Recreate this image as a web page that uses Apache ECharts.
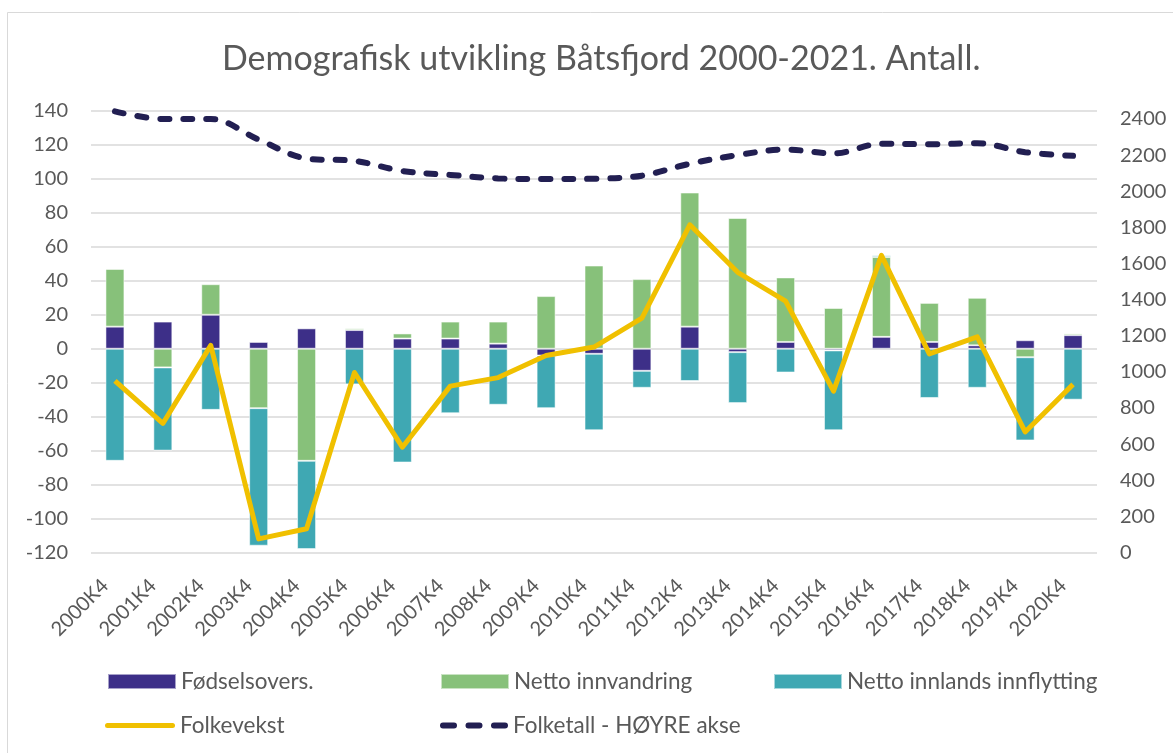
<!DOCTYPE html>
<html>
<head>
<meta charset="utf-8">
<script src="https://cdn.jsdelivr.net/npm/echarts@6/dist/echarts.min.js"></script>
<style>
html,body{margin:0;padding:0;background:#fff;}
#chart{width:1173px;height:753px;}
</style>
</head>
<body>
<div id="chart"></div>
<script>
const categories = ['2000K4','2001K4','2002K4','2003K4','2004K4','2005K4','2006K4','2007K4','2008K4','2009K4','2010K4','2011K4','2012K4','2013K4','2014K4','2015K4','2016K4','2017K4','2018K4','2019K4','2020K4'];
const fodselsovers = [13, 16, 20, 4, 12, 11, 6, 6, 3, -4, -3, -13, 13, -2, 4, -1, 7, 4, 2, 5, 8];
const nettoInnvandring = [34, -11, 18, -35, -66, 1, 3, 10, 13, 31, 49, 41, 79, 77, 38, 24, 47, 23, 28, -5, 1];
const nettoInnlands = [-66, -49, -36, -81, -52, -21, -67, -38, -33, -31, -45, -10, -19, -30, -14, -47, 1, -29, -23, -49, -30];
const folkevekst = [-19, -44, 2, -112, -106, -14, -58, -22, -17, -4, 1, 18, 73, 45, 28, -25, 55, -3, 7, -49, -21];
const folketall = [2442, 2400, 2400, 2286, 2181, 2168, 2112, 2090, 2071, 2067, 2069, 2086, 2152, 2200, 2231, 2209, 2263, 2260, 2266, 2216, 2196];
const leftTicks = { min: -120, max: 140, step: 20 };
const rightTicks = { min: 0, max: 2444, step: 200 };

const FONT = 'Lato';
const GREY = '#595959';
const C_PURPLE = '#3d2f88';
const C_GREEN = '#87c17a';
const C_TEAL = '#3fa8b3';
const C_YELLOW = '#f0c000';
const C_NAVY = '#221f52';

const chart = echarts.init(document.getElementById('chart'), null, {renderer: 'canvas'});

const legendText = { color: GREY, fontFamily: FONT, fontSize: 22.5 };
function legendAt(name, left, top, extra) {
  return Object.assign({
    data: [name], left: left, top: top, itemWidth: 68, itemHeight: 15, itemGap: 0,
    padding: 0, textStyle: legendText, selectedMode: false
  }, extra || {});
}

const capsule = (x, w, h) => {
  const r = h / 2;
  return 'M' + (x + r) + ' 0 L' + (x + w - r) + ' 0 A' + r + ' ' + r + ' 0 0 1 ' + (x + w - r) + ' ' + h +
    ' L' + (x + r) + ' ' + h + ' A' + r + ' ' + r + ' 0 0 1 ' + (x + r) + ' 0 Z ';
};
const dashIcon = 'path://' + capsule(0, 17, 6) + capsule(25.5, 17, 6) + capsule(51, 17, 6);
const solidIcon = 'path://' + capsule(0, 70, 5);

const barStyle = c => ({ color: c, borderColor: 'rgba(255,255,255,0.55)', borderWidth: 1 });
const plain = v => String(v);

chart.setOption({
  animation: false,
  backgroundColor: '#fff',
  title: {
    text: 'Demografisk utvikling Båtsfjord 2000-2021. Antall.',
    left: 217, top: 37,
    textStyle: { color: GREY, fontFamily: FONT, fontSize: 34, fontWeight: 'normal' }
  },
  graphic: [{
    type: 'rect', shape: { x: 7.5, y: 12.5, width: 1180, height: 800 },
    style: { fill: 'none', stroke: '#d9d9d9', lineWidth: 1 }, silent: true, z: -1
  }],
  grid: { left: 91, right: 76, top: 111, bottom: 200.5, containLabel: false },
  legend: [
    legendAt('Fødselsovers.', 107, 670, { icon: 'rect' }),
    legendAt('Netto innvandring', 440, 670, { icon: 'rect' }),
    legendAt('Netto innlands innflytting', 773, 670, { icon: 'rect' }),
    legendAt('Folkevekst', 105, 714, { icon: solidIcon, itemWidth: 70, itemHeight: 5 }),
    legendAt('Folketall - HØYRE akse', 440, 714, { icon: dashIcon, itemWidth: 68, itemHeight: 6 })
  ],
  xAxis: {
    type: 'category', data: categories, boundaryGap: true,
    axisLine: { show: false }, axisTick: { show: false },
    axisLabel: { rotate: 45, color: GREY, fontFamily: FONT, fontSize: 20, margin: 20, interval: 0, padding: [0, 14, 0, 0] }
  },
  yAxis: [{
    type: 'value', min: leftTicks.min, max: leftTicks.max, interval: leftTicks.step,
    axisLine: { show: false }, axisTick: { show: false },
    axisLabel: { color: GREY, fontFamily: FONT, fontSize: 20, margin: 23, formatter: plain },
    splitLine: { lineStyle: { color: '#d9d9d9', width: 1.5 } }
  }, {
    type: 'value', position: 'right', min: rightTicks.min, max: rightTicks.max, interval: rightTicks.step,
    axisLine: { show: false }, axisTick: { show: false },
    axisLabel: { color: GREY, fontFamily: FONT, fontSize: 20, margin: 23, showMaxLabel: false, formatter: plain },
    splitLine: { show: false }
  }],
  series: [
    { name: 'Fødselsovers.', type: 'bar', stack: 'a', data: fodselsovers, barWidth: 19, itemStyle: barStyle(C_PURPLE) },
    { name: 'Netto innvandring', type: 'bar', stack: 'a', data: nettoInnvandring, barWidth: 19, itemStyle: barStyle(C_GREEN) },
    { name: 'Netto innlands innflytting', type: 'bar', stack: 'a', data: nettoInnlands, barWidth: 19, itemStyle: barStyle(C_TEAL) },
    { name: 'Folkevekst', type: 'line', data: folkevekst, symbol: 'none', z: 5,
      lineStyle: { color: C_YELLOW, width: 5, join: 'round' }, itemStyle: { color: C_YELLOW } },
    { name: 'Folketall - HØYRE akse', type: 'line', yAxisIndex: 1, data: folketall, symbol: 'none', smooth: 0.35, z: 6,
      lineStyle: { color: C_NAVY, width: 6, type: [9, 14], cap: 'round' }, itemStyle: { color: C_NAVY } }
  ]
});
</script>
</body>
</html>
